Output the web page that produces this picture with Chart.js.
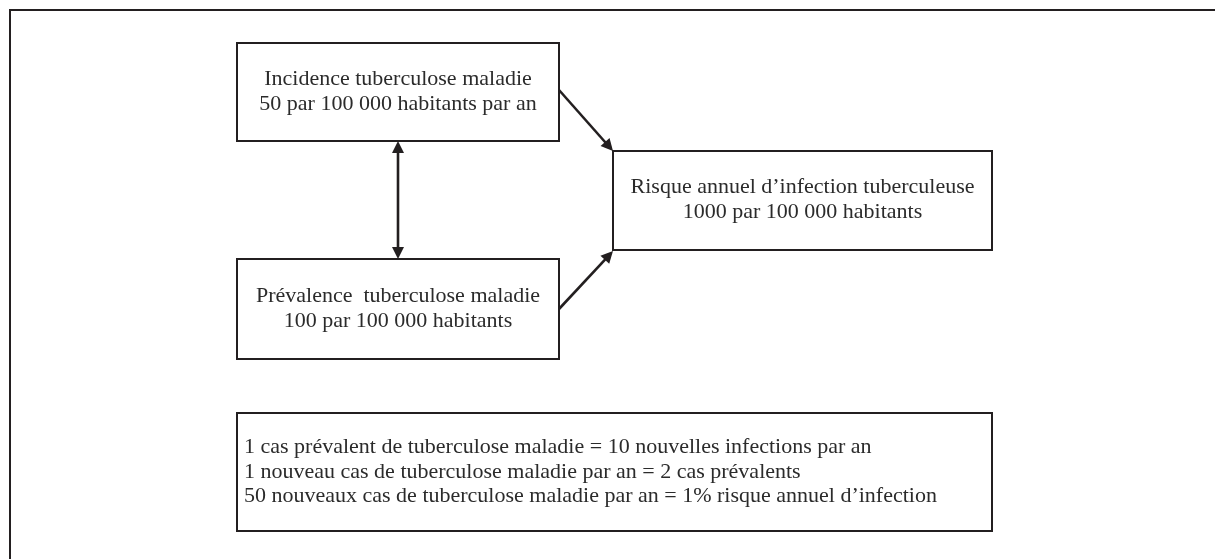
<!DOCTYPE html>
<html>
<head>
<meta charset="utf-8">
<script src="https://cdn.jsdelivr.net/npm/chart.js@4/dist/chart.umd.min.js"></script>
<style>
  html, body { margin: 0; padding: 0; background: #fff; }
  #wrap { width: 1215px; height: 559px; position: relative; }
</style>
</head>
<body>
<div id="wrap"><canvas id="chart1"></canvas></div>
<script>
// texts of the diagram
const boxTexts = [
  ["Incidence tuberculose maladie", "50 par 100 000 habitants par an"],
  ["Prévalence  tuberculose maladie", "100 par 100 000 habitants"],
  ["Risque annuel d\u2019infection tuberculeuse", "1000 par 100 000 habitants"]
];
const noteLines = [
  "1 cas prévalent de tuberculose maladie = 10 nouvelles infections par an",
  "1 nouveau cas de tuberculose maladie par an = 2 cas prévalents",
  "50 nouveaux cas de tuberculose maladie par an = 1% risque annuel d\u2019infection"
];

// layout (in axis units, axes run 0..1215 and 0..559)
const boxLeft   = [237, 237, 613, 237];
const boxRight  = [559, 559, 992, 992];
const boxTop    = [43, 259, 151, 413];
const boxBottom = [141, 359, 250, 531];
// arrows: [x1, y1, x2, y2, doubleHead]
const arrows = [
  [398, 141, 398, 259, true],
  [559, 90, 613, 151, false],
  [559, 309, 613, 251, false]
];
const frameX = [1215, 10, 10];
const frameY = [10, 10, 559];

const ink = '#231f20';
const font = '22px "Liberation Serif", "Times New Roman", serif';

const datasets = [];
// outer frame
datasets.push({
  data: frameX.map((x, i) => ({x: x, y: frameY[i]})),
  showLine: true, borderColor: ink, borderWidth: 2, pointRadius: 0, clip: false
});
// boxes
for (let i = 0; i < boxLeft.length; i++) {
  datasets.push({
    data: [
      {x: boxLeft[i], y: boxTop[i]}, {x: boxRight[i], y: boxTop[i]},
      {x: boxRight[i], y: boxBottom[i]}, {x: boxLeft[i], y: boxBottom[i]},
      {x: boxLeft[i], y: boxTop[i]}
    ],
    showLine: true, borderColor: ink, borderWidth: 2, pointRadius: 0,
    borderJoinStyle: 'miter', borderCapStyle: 'square', clip: false
  });
}

// arrows and text drawn through the scales
const diagramPlugin = {
  id: 'diagram',
  afterDatasetsDraw(chart) {
    const ctx = chart.ctx;
    const xs = chart.scales.x, ys = chart.scales.y;
    const head = 12, half = 6;
    ctx.save();
    ctx.strokeStyle = ink;
    ctx.fillStyle = ink;
    ctx.lineWidth = 2.6;

    function drawHead(tx, ty, ang) {
      ctx.beginPath();
      ctx.moveTo(tx, ty);
      ctx.lineTo(tx - head * Math.cos(ang) + half * Math.sin(ang), ty - head * Math.sin(ang) - half * Math.cos(ang));
      ctx.lineTo(tx - head * Math.cos(ang) - half * Math.sin(ang), ty - head * Math.sin(ang) + half * Math.cos(ang));
      ctx.closePath();
      ctx.fill();
    }

    arrows.forEach(a => {
      const x1 = xs.getPixelForValue(a[0]), y1 = ys.getPixelForValue(a[1]);
      const x2 = xs.getPixelForValue(a[2]), y2 = ys.getPixelForValue(a[3]);
      const ang = Math.atan2(y2 - y1, x2 - x1);
      const sx = a[4] ? x1 + (head - 2) * Math.cos(ang) : x1;
      const sy = a[4] ? y1 + (head - 2) * Math.sin(ang) : y1;
      ctx.beginPath();
      ctx.moveTo(sx, sy);
      ctx.lineTo(x2 - (head - 2) * Math.cos(ang), y2 - (head - 2) * Math.sin(ang));
      ctx.stroke();
      drawHead(x2, y2, ang);
      if (a[4]) drawHead(x1, y1, ang + Math.PI);
    });

    ctx.font = font;
    ctx.textAlign = 'center';
    ctx.textBaseline = 'middle';
    ctx.fillStyle = '#2b2b2b';
    boxTexts.forEach((lines, i) => {
      const cx = xs.getPixelForValue((boxLeft[i] + boxRight[i]) / 2);
      const cy = ys.getPixelForValue((boxTop[i] + boxBottom[i]) / 2);
      ctx.fillText(lines[0], cx, cy - 13);
      ctx.fillText(lines[1], cx, cy + 12);
    });

    ctx.textAlign = 'left';
    const nx = xs.getPixelForValue(boxLeft[3] + 7);
    const ny = ys.getPixelForValue((boxTop[3] + boxBottom[3]) / 2);
    noteLines.forEach((t, i) => {
      ctx.fillText(t, nx, ny + (i - 1) * 24.5);
    });
    ctx.restore();
  }
};

new Chart("chart1", {
  type: "scatter",
  data: { datasets: datasets },
  options: {
    responsive: true,
    maintainAspectRatio: false,
    animation: false,
    layout: { padding: 0 },
    plugins: { legend: { display: false }, tooltip: { enabled: false } },
    scales: {
      x: { type: 'linear', min: 0, max: 1215, display: false },
      y: { type: 'linear', min: 0, max: 559, reverse: true, display: false }
    }
  },
  plugins: [diagramPlugin]
});
</script>
</body>
</html>
